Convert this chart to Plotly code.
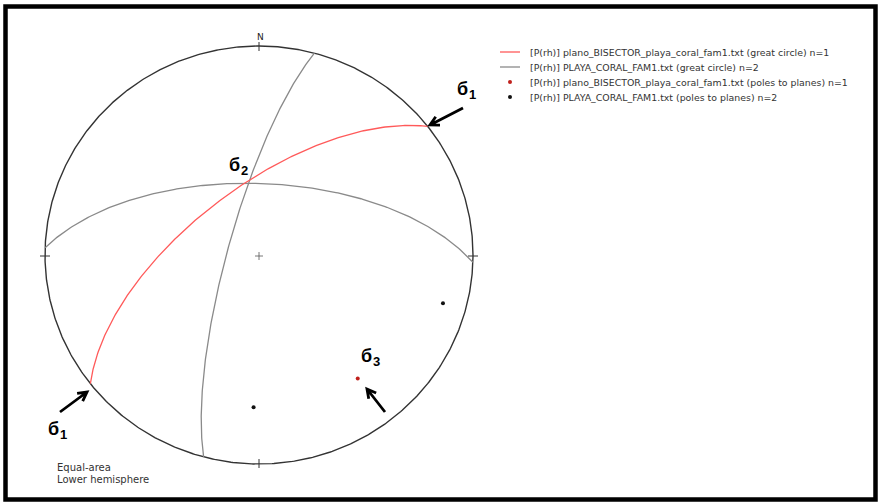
import numpy as np
import plotly.graph_objects as go

W, H = 878, 504
# stereonet placement in the picture (pixels): centre and radii
CX, CY, RX, RY = 259, 255, 214, 209

# ---- data (strike / dip, right-hand rule) ----
bisector_strike = [232]
bisector_dip = [64]
fam1_strike = [195, 272]
fam1_dip = [78, 62]

legend_labels = [
    "[P(rh)] plano_BISECTOR_playa_coral_fam1.txt (great circle) n=1",
    "[P(rh)] PLAYA_CORAL_FAM1.txt (great circle) n=2",
    "[P(rh)] plano_BISECTOR_playa_coral_fam1.txt (poles to planes) n=1",
    "[P(rh)] PLAYA_CORAL_FAM1.txt (poles to planes) n=2",
]
net_labels = ["Equal-area", "Lower hemisphere"]
sigma_symbol = "б"
sigma_index = ["1", "1", "2", "3"]

RED_LINE = "#ff5a5a"
GREY_LINE = "#8a8a8a"
RED_POLE = "#c0201c"
BLACK_POLE = "#111111"
TXT = "#333333"


def project(E, N, D):
    s = np.sqrt(1.0 + D)
    return E / s, N / s


def great_circle(strike, dip, n=241):
    a = np.radians(np.linspace(0, 180, n))
    s = np.radians(strike)
    d = np.radians(dip)
    sE, sN = np.sin(s), np.cos(s)
    dd = s + np.pi / 2
    dE, dN, dD = np.sin(dd) * np.cos(d), np.cos(dd) * np.cos(d), np.sin(d)
    E = np.cos(a) * sE + np.sin(a) * dE
    N = np.cos(a) * sN + np.sin(a) * dN
    D = np.sin(a) * dD
    return project(E, N, D)


def pole(strike, dip):
    t = np.radians(strike - 90.0)
    p = np.radians(90.0 - dip)
    return project(np.cos(p) * np.sin(t), np.cos(p) * np.cos(t), np.sin(p))


def px(xp, yp):
    return (xp - CX) / RX, (CY - yp) / RY


fig = go.Figure()

# primitive circle
th = np.linspace(0, 2 * np.pi, 721)
fig.add_trace(go.Scatter(x=np.sin(th), y=np.cos(th), mode="lines",
                         line=dict(color="#333333", width=1.4), hoverinfo="skip", showlegend=False))

# great circles
for s, d in zip(fam1_strike, fam1_dip):
    gx, gy = great_circle(s, d)
    fig.add_trace(go.Scatter(x=gx, y=gy, mode="lines", line=dict(color=GREY_LINE, width=1.3),
                             name=legend_labels[1], showlegend=False))
for s, d in zip(bisector_strike, bisector_dip):
    gx, gy = great_circle(s, d)
    fig.add_trace(go.Scatter(x=gx, y=gy, mode="lines", line=dict(color=RED_LINE, width=1.3),
                             name=legend_labels[0], showlegend=False))

# poles
pb = [pole(s, d) for s, d in zip(bisector_strike, bisector_dip)]
pf = [pole(s, d) for s, d in zip(fam1_strike, fam1_dip)]
fig.add_trace(go.Scatter(x=[p[0] for p in pb], y=[p[1] for p in pb], mode="markers",
                         marker=dict(color=RED_POLE, size=4), name=legend_labels[2], showlegend=False))
fig.add_trace(go.Scatter(x=[p[0] for p in pf], y=[p[1] for p in pf], mode="markers",
                         marker=dict(color=BLACK_POLE, size=4), name=legend_labels[3], showlegend=False))

shapes = []


def seg(p0, p1, color, width):
    x0, y0 = px(*p0)
    x1, y1 = px(*p1)
    shapes.append(dict(type="line", xref="x", yref="y", x0=x0, y0=y0, x1=x1, y1=y1,
                       line=dict(color=color, width=width)))


# ticks on the net (pixel sizes)
seg((CX, CY - RY - 4), (CX, CY - RY + 5), "#333333", 1)
seg((CX, CY + RY - 5), (CX, CY + RY + 4), "#333333", 1)
seg((CX - RX - 5, CY + 1), (CX - RX + 5, CY + 1), "#333333", 1)
seg((CX + RX - 5, CY + 1), (CX + RX + 5, CY + 1), "#333333", 1)
seg((CX - 4, CY + 1), (CX + 4, CY + 1), "#555555", 0.8)
seg((CX, CY - 3), (CX, CY + 5), "#555555", 0.8)


# arrows (tail -> head in pixels)
def arrow(tail, head, wing=10, ang=28, width=2.8):
    tx, ty = tail
    hx, hy = head
    v = np.array([tx - hx, ty - hy], float)
    v /= np.linalg.norm(v)
    out = []
    for sgn in (1, -1):
        a = np.radians(ang * sgn)
        r = np.array([v[0] * np.cos(a) - v[1] * np.sin(a), v[0] * np.sin(a) + v[1] * np.cos(a)])
        out.append((hx + wing * r[0], hy + wing * r[1]))
    pts = [px(tx, ty), px(hx, hy), px(*out[0]), px(hx, hy), px(*out[1])]
    path = "M {} {} L {} {} M {} {} L {} {} L {} {}".format(
        pts[0][0], pts[0][1], pts[1][0], pts[1][1], pts[2][0], pts[2][1],
        pts[3][0], pts[3][1], pts[4][0], pts[4][1])
    shapes.append(dict(type="path", xref="x", yref="y", path=path,
                       line=dict(color="black", width=width)))


arrow((463, 108), (430, 125))
arrow((60, 412), (87, 392))
arrow((385, 412), (367, 389))

# legend (manual)
leg_y = [52, 67, 82, 97]
seg((500, leg_y[0]), (520, leg_y[0]), RED_LINE, 1.3)
seg((500, leg_y[1]), (520, leg_y[1]), GREY_LINE, 1.3)
lx, ly = px(510, leg_y[2])
fig.add_trace(go.Scatter(x=[lx], y=[ly], mode="markers", marker=dict(color=RED_POLE, size=4),
                         hoverinfo="skip", showlegend=False))
lx, ly = px(510, leg_y[3])
fig.add_trace(go.Scatter(x=[lx], y=[ly], mode="markers", marker=dict(color=BLACK_POLE, size=4),
                         hoverinfo="skip", showlegend=False))

annotations = []
for lab, yy in zip(legend_labels, leg_y):
    ax, ay = px(528, yy)
    annotations.append(dict(x=ax, y=ay, xref="x", yref="y", text=lab, showarrow=False,
                            xanchor="left", yanchor="middle",
                            font=dict(family="DejaVu Sans", size=9.4, color=TXT)))

for lab, yy in zip(net_labels, [467, 479]):
    ax, ay = px(55, yy)
    annotations.append(dict(x=ax, y=ay, xref="x", yref="y", text=lab, showarrow=False,
                            xanchor="left", yanchor="middle",
                            font=dict(family="DejaVu Sans", size=10, color=TXT)))

ax, ay = px(260, 37)
annotations.append(dict(x=ax, y=ay, xref="x", yref="y", text="N", showarrow=False,
                        xanchor="center", yanchor="middle",
                        font=dict(family="DejaVu Sans", size=9, color="#222222")))

# sigma labels: main glyph and index drawn as separate texts
sig_main = [(462.5, 88.5), (53, 428.5), (234, 164.5), (366, 356)]
sig_sub = [(472.5, 94), (63, 434), (244.5, 170), (376.5, 361)]
for idx, (mx, my), (sx, sy) in zip(sigma_index, sig_main, sig_sub):
    ax, ay = px(mx, my)
    annotations.append(dict(x=ax, y=ay, xref="x", yref="y", text=sigma_symbol, showarrow=False,
                            xanchor="center", yanchor="middle",
                            font=dict(family="Liberation Sans", size=18, color="black", weight="bold")))
    ax, ay = px(sx, sy)
    annotations.append(dict(x=ax, y=ay, xref="x", yref="y", text=idx, showarrow=False,
                            xanchor="center", yanchor="middle",
                            font=dict(family="Liberation Sans", size=13, color="black", weight="bold")))

# frame around the picture
shapes.append(dict(type="rect", xref="paper", yref="paper",
                   x0=5.5 / W, x1=875.5 / W, y0=1 - 499.5 / H, y1=1 - 6.5 / H,
                   line=dict(color="black", width=4.5)))

fig.update_layout(
    width=W, height=H,
    margin=dict(l=0, r=0, t=0, b=0),
    paper_bgcolor="white", plot_bgcolor="white",
    xaxis=dict(range=[(0 - CX) / RX, (W - CX) / RX], visible=False, fixedrange=True),
    yaxis=dict(range=[-(H - CY) / RY, CY / RY], visible=False, fixedrange=True),
    shapes=shapes, annotations=annotations, showlegend=False,
)

fig.write_html("out.html", config={"displayModeBar": False},
               post_script="document.body.style.margin='0';document.body.style.overflow='hidden';")
